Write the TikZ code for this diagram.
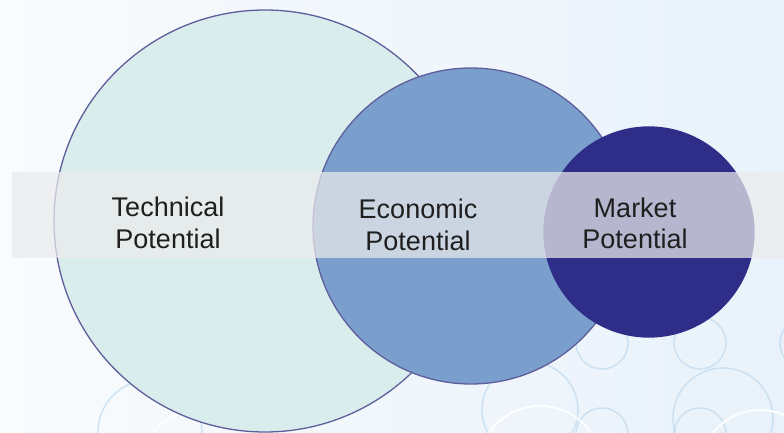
\documentclass[tikz,border=0pt]{standalone}
\usepackage{fontspec}
\setmainfont{Liberation Sans}
\usetikzlibrary{positioning}
\definecolor{techfill}{HTML}{DAEDED}
\definecolor{econfill}{HTML}{7A9FCC}
\definecolor{marketfill}{HTML}{2E2D88}
\definecolor{rimline}{HTML}{5E5E9C}
\definecolor{bandfill}{HTML}{EBEBEB}
\definecolor{ringline}{HTML}{BCD9EE}
\definecolor{bgleft}{HTML}{F9FBFD}
\definecolor{bgright}{HTML}{E9F2FA}
\tikzset{
  potential/.style={
    circle, inner sep=0pt, draw=rimline, line width=1.3pt
  },
  band/.style={
    fill=bandfill, fill opacity=0.72, draw=none
  },
  ring/.style={
    draw=ringline, line width=1.6pt, draw opacity=0.65
  },
  whitering/.style={
    draw=white, line width=2pt, draw opacity=0.9
  },
  caption/.style={
    align=center, inner sep=0pt, text=black!88,
    font=\fontsize{27}{31.5}\selectfont
  }
}
\begin{document}
\begin{tikzpicture}[x=1pt, y=-1pt]
\useasboundingbox (0,0) rectangle (784,433);
\clip (0,0) rectangle (784,433);
\shade[left color=bgleft, right color=bgright] (0,0) rectangle (784,433);
\foreach \cx/\cy/\r in {602/343/26, 700/343/26, 806/343/26, 602/434/26, 700/434/26,
                        530/410/48, 723/418/50, 150/432/52}
  \draw[ring] (\cx,\cy) circle (\r);
\foreach \cx/\cy/\r in {540/468/62, 200/470/60, 760/470/60}
  \draw[whitering] (\cx,\cy) circle (\r);
\node[potential, fill=techfill, minimum size=422pt] (tech) at (265,221) {};
\node[potential, fill=econfill, minimum size=316pt] (econ) at (471,226) {};
\node[potential, fill=marketfill, draw=marketfill, minimum size=210pt] (market) at (649,232) {};
\fill[band] (12,172) rectangle (790,258);
\node[caption] (techtext) at (168,223) {Technical\\Potential};
\node[caption] (econtext) at (418,225) {Economic\\Potential};
\node[caption] (markettext) at (635,223.5) {Market\\Potential};
\end{tikzpicture}
\end{document}
